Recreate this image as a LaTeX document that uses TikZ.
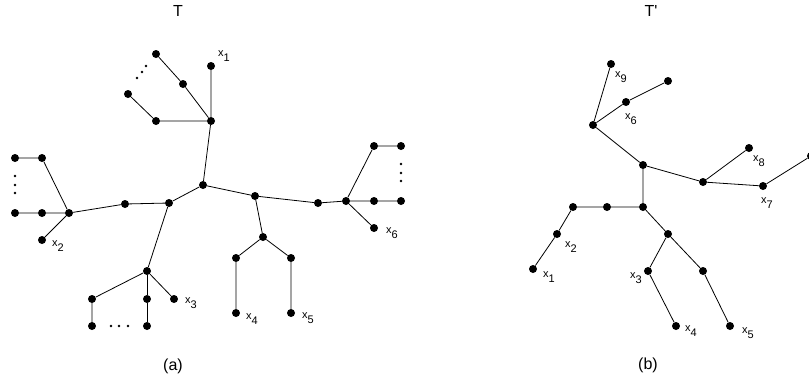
\documentclass[tikz,border=0pt]{standalone}
\usepackage{fontspec}
\setmainfont{Liberation Sans}
\usepackage{tikz}
\newcommand{\xlab}[1]{x\raisebox{-5pt}{#1}}

\begin{document}
\begin{tikzpicture}[
      x=1pt, y=-1pt,
      vtx/.style={
          circle, fill=black, inner sep=0pt, minimum size=8pt
      },
      lab/.style={
          inner sep=0pt, font=\fontsize{11}{13}\selectfont
      },
      caption/.style={
          inner sep=0pt, font=\fontsize{16}{18}\selectfont
      },
      edge/.style={
          draw=black, line width=0.8pt
      },
      dotsmall/.style={
          fill=black
      }
  ]
      \useasboundingbox (0,0) rectangle (809,381);

      % Titres
      \node[caption] (tT) at (178, 11) {T};
      \node[caption] (tTp) at (651, 11) {T\textquotesingle};
      \node[caption] (capa) at (173, 366) {(a)};
      \node[caption] (capb) at (648, 365) {(b)};

      % Arbre T
      \node[vtx] (c) at (203, 185) {};
      \node[vtx] (a) at (211, 121) {};
      \node[vtx] (a1) at (211, 66) {};
      \node[vtx] (a2) at (183, 84) {};
      \node[vtx] (a3) at (156, 54) {};
      \node[vtx] (a4) at (156, 121) {};
      \node[vtx] (a5) at (128, 94) {};

      \node[vtx] (e) at (255, 196) {};
      \node[vtx] (f) at (263, 237) {};
      \node[vtx] (f1) at (236, 258) {};
      \node[vtx] (f2) at (291, 258) {};
      \node[vtx] (f3) at (236, 313) {};
      \node[vtx] (f4) at (291, 313) {};

      \node[vtx] (g) at (318, 203) {};
      \node[vtx] (h) at (346, 201) {};
      \node[vtx] (h1) at (374, 201) {};
      \node[vtx] (h2) at (401, 201) {};
      \node[vtx] (h3) at (374, 146) {};
      \node[vtx] (h4) at (401, 146) {};
      \node[vtx] (h5) at (374, 228) {};

      \node[vtx] (b) at (169, 203) {};
      \node[vtx] (b1) at (125, 204) {};
      \node[vtx] (l) at (69, 213) {};
      \node[vtx] (l1) at (42, 213) {};
      \node[vtx] (l2) at (15, 213) {};
      \node[vtx] (l3) at (42, 158) {};
      \node[vtx] (l4) at (15, 158) {};
      \node[vtx] (l5) at (42, 240) {};

      \node[vtx] (d) at (147, 271) {};
      \node[vtx] (d1) at (92, 299) {};
      \node[vtx] (d2) at (147, 299) {};
      \node[vtx] (d3) at (174, 299) {};
      \node[vtx] (d4) at (92, 326) {};
      \node[vtx] (d5) at (147, 326) {};

      \draw[edge] (c) -- (a) -- (a1);
      \draw[edge] (a) -- (a2) -- (a3);
      \draw[edge] (a) -- (a4) -- (a5);
      \draw[edge] (c) -- (e) -- (f) -- (f1) -- (f3);
      \draw[edge] (f) -- (f2) -- (f4);
      \draw[edge] (e) -- (g) -- (h) -- (h1) -- (h2);
      \draw[edge] (h) -- (h3) -- (h4);
      \draw[edge] (h) -- (h5);
      \draw[edge] (c) -- (b) -- (b1) -- (l) -- (l1) -- (l2);
      \draw[edge] (l) -- (l3) -- (l4);
      \draw[edge] (l) -- (l5);
      \draw[edge] (b) -- (d) -- (d1) -- (d4);
      \draw[edge] (d) -- (d2) -- (d5);
      \draw[edge] (d) -- (d3);

      % Points de suspension
      \fill[dotsmall] (137, 78) circle (1.3) (142, 72) circle (1.3) (146, 66) circle (1.3);
      \fill[dotsmall] (15, 176) circle (1.3) (15, 185) circle (1.3) (15, 193) circle (1.3);
      \fill[dotsmall] (111, 326) circle (1.3) (119, 326) circle (1.3) (128, 326) circle (1.3);
      \fill[dotsmall] (401, 164) circle (1.3) (401, 173) circle (1.3) (401, 181) circle (1.3);

      \node[lab] (la1) at (224, 56) {\xlab{1}};
      \node[lab] (ll5) at (58, 246) {\xlab{2}};
      \node[lab] (ld3) at (191, 303) {\xlab{3}};
      \node[lab] (lf3) at (252, 319) {\xlab{4}};
      \node[lab] (lf4) at (308, 318) {\xlab{5}};
      \node[lab] (lh5) at (392, 233) {\xlab{6}};

      % Arbre T'
      \node[vtx] (m) at (643, 165) {};
      \node[vtx] (k) at (593, 125) {};
      \node[vtx] (k1) at (611, 64) {};
      \node[vtx] (k2) at (626, 102) {};
      \node[vtx] (k3) at (668, 81) {};

      \node[vtx] (n) at (703, 182) {};
      \node[vtx] (n1) at (749, 148) {};
      \node[vtx] (n2) at (763, 186) {};
      \node[vtx] (n3) at (811, 156) {};

      \node[vtx] (p) at (643, 207) {};
      \node[vtx] (p1) at (607, 207) {};
      \node[vtx] (p2) at (573, 207) {};
      \node[vtx] (p3) at (557, 234) {};
      \node[vtx] (p4) at (533, 269) {};

      \node[vtx] (q) at (668, 234) {};
      \node[vtx] (q1) at (648, 271) {};
      \node[vtx] (q2) at (703, 271) {};
      \node[vtx] (q3) at (676, 326) {};
      \node[vtx] (q4) at (730, 326) {};

      \draw[edge] (m) -- (k) -- (k1);
      \draw[edge] (k) -- (k2) -- (k3);
      \draw[edge] (m) -- (n) -- (n1);
      \draw[edge] (n) -- (n2) -- (n3);
      \draw[edge] (m) -- (p) -- (p1) -- (p2) -- (p3) -- (p4);
      \draw[edge] (p) -- (q) -- (q1) -- (q3);
      \draw[edge] (q) -- (q2) -- (q4);

      \node[lab] (lk1) at (621, 77) {\xlab{9}};
      \node[lab] (lk2) at (631, 119) {\xlab{6}};
      \node[lab] (ln1) at (759, 161) {\xlab{8}};
      \node[lab] (ln2) at (767, 203) {\xlab{7}};
      \node[lab] (lp3) at (571, 247) {\xlab{2}};
      \node[lab] (lp4) at (549, 277) {\xlab{1}};
      \node[lab] (lq1) at (636, 278) {\xlab{3}};
      \node[lab] (lq3) at (691, 331) {\xlab{4}};
      \node[lab] (lq4) at (748, 333) {\xlab{5}};
  \end{tikzpicture}
\end{document}
